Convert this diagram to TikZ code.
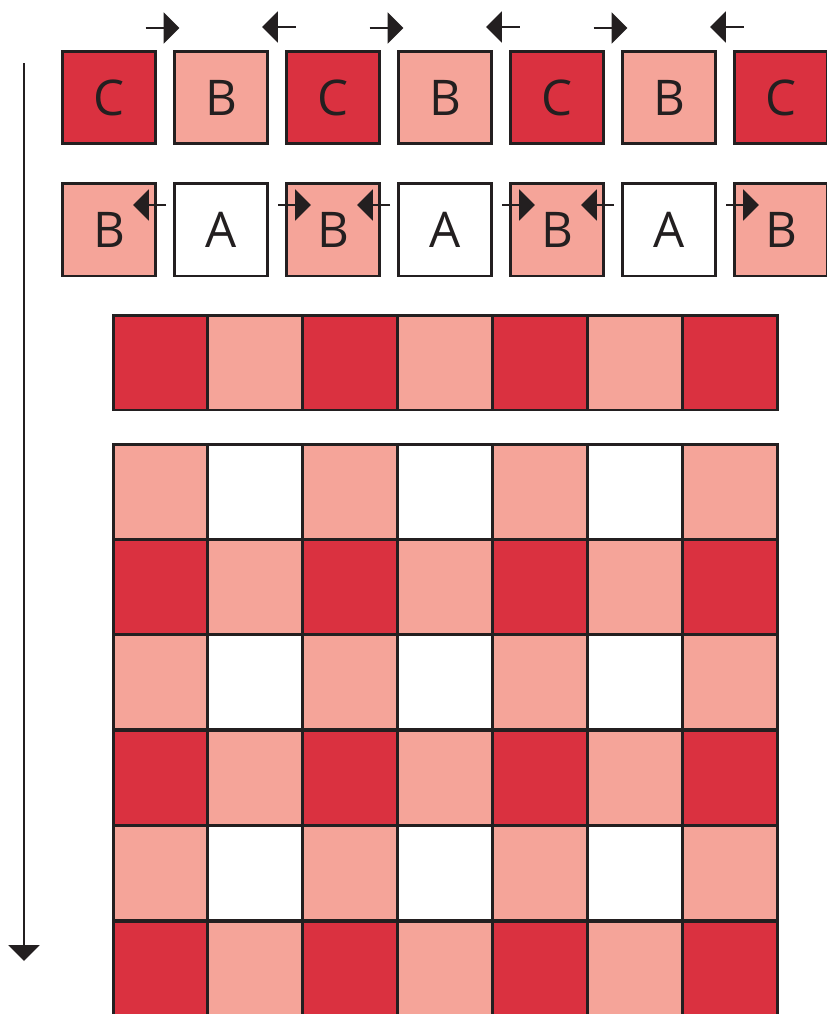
\documentclass[tikz,border=0pt]{standalone}
\usepackage{fontspec}
\setmainfont{Open Sans}
\usetikzlibrary{arrows.meta}
\definecolor{cdark}{RGB}{218,49,64}
\definecolor{clight}{RGB}{245,164,153}
\definecolor{cline}{RGB}{35,31,32}

\begin{document}
\begin{tikzpicture}[x=0.02cm,y=-0.02cm,
  box/.style={draw=cline,line width=1.7pt,minimum size=1.86cm,inner sep=0pt,
    text=cline,font=\fontsize{28}{30}\selectfont},
  cellbox/.style={draw=cline,line width=1.7pt,minimum size=1.9cm,inner sep=0pt},
  tip/.style={cline,line width=1.2pt,-{Triangle[length=9pt,width=17.5pt]}}]
  \useasboundingbox (0,0) rectangle (827,1014);
  % the two lettered rows
  \foreach \i/\lab/\col in {1/C/cdark,2/B/clight,3/C/cdark,4/B/clight,5/C/cdark,6/B/clight,7/C/cdark}
    \node[box,fill=\col] (t\i) at ({109+112*(\i-1)},97.5) {\lab};
  \foreach \i/\lab/\col in {1/B/clight,2/A/white,3/B/clight,4/A/white,5/B/clight,6/A/white,7/B/clight}
    \node[box,fill=\col] (m\i) at ({109+112*(\i-1)},229.5) {\lab};
  % arrows in the gaps
  \foreach \i in {1,...,6} {
    \pgfmathsetmacro\gx{165+112*(\i-1)}
    \ifodd\i
      \coordinate (ua\i) at (\gx-19.5,28);
      \coordinate (ub\i) at (\gx+14.5,28);
      \coordinate (la\i) at (\gx+1,205);
      \coordinate (lb\i) at (\gx-32,205);
    \else
      \coordinate (ua\i) at (\gx+18.5,27);
      \coordinate (ub\i) at (\gx-15,27);
      \coordinate (la\i) at (\gx+1,205);
      \coordinate (lb\i) at (\gx+34,205);
    \fi
    \draw[tip] (ua\i) -- (ub\i);
    \draw[tip] (la\i) -- (lb\i);
  }
  % strip
  \foreach \i/\col in {1/cdark,2/clight,3/cdark,4/clight,5/cdark,6/clight,7/cdark}
    \node[cellbox,fill=\col] (s\i) at ({160.5+94.86*(\i-1)},362.5) {};
  % grid
  \foreach \r in {1,...,6}
    \foreach \c in {1,...,7} {
      \ifodd\r
        \ifodd\c \def\col{clight}\else \def\col{white}\fi
      \else
        \ifodd\c \def\col{cdark}\else \def\col{clight}\fi
      \fi
      \node[cellbox,fill=\col] (g\r-\c) at ({160.5+94.86*(\c-1)},{491.5+95.4*(\r-1)}) {};
    }
  % time axis
  \coordinate (top) at (24,63);
  \coordinate (bot) at (24,961);
  \draw[tip] (top) -- (bot);
\end{tikzpicture}
\end{document}
